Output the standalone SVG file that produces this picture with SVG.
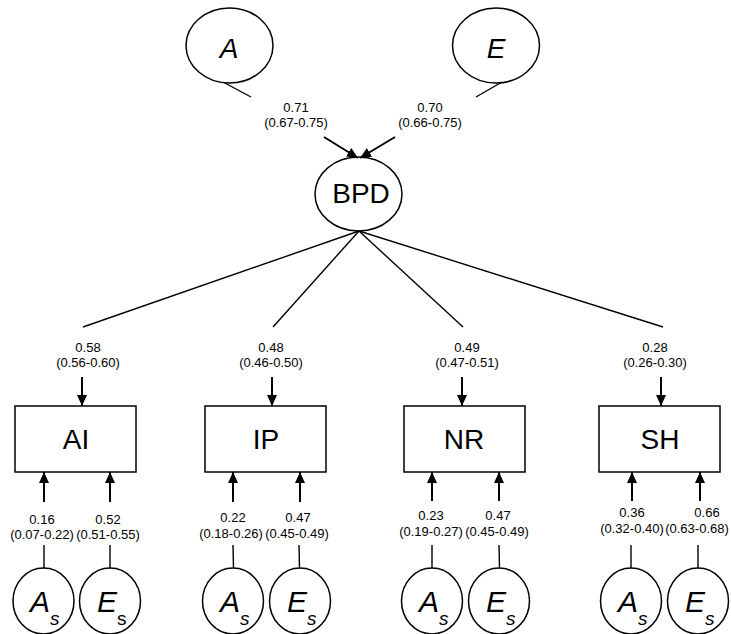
<svg xmlns="http://www.w3.org/2000/svg" width="731" height="634" viewBox="0 0 731 634">
<style>
.shape{fill:#fff;stroke:#000;stroke-width:1.5}
.ln{stroke:#000;stroke-width:1.4;fill:none}
.ar{stroke:#000;stroke-width:2;fill:none;marker-end:url(#ah)}
.lbl{font-family:"Liberation Sans",Arial,sans-serif;font-size:13px;text-anchor:middle;fill:#000}
.big{font-family:"Liberation Sans",Arial,sans-serif;font-size:28px;text-anchor:middle;fill:#000}
.lat{font-family:"Liberation Sans",Arial,sans-serif;font-style:italic;fill:#000}
.sub{font-size:19px}
</style>
<defs>
<marker id="ah" markerUnits="userSpaceOnUse" markerWidth="12" markerHeight="12" viewBox="0 0 12 12" refX="11" refY="6" orient="auto">
<path d="M0,1 L11,6 L0,11 Z" fill="#000"/>
</marker>
</defs>

<g id="node-A">
<ellipse class="shape" cx="229.5" cy="45.5" rx="43.5" ry="37.5"/>
<text class="lat" x="229" y="58" font-size="28" text-anchor="middle">A</text>
</g>
<g id="node-E">
<ellipse class="shape" cx="496" cy="45.5" rx="43.5" ry="37.5"/>
<text class="lat" x="496" y="58" font-size="28" text-anchor="middle">E</text>
</g>
<g id="node-BPD">
<ellipse class="shape" cx="358.5" cy="194" rx="43.5" ry="37"/>
<text class="big" x="361" y="203">BPD</text>
</g>

<g id="node-AI"><rect class="shape" x="15" y="406" width="121" height="66"/><text class="big" x="76" y="449">AI</text></g>
<g id="node-IP"><rect class="shape" x="205" y="406" width="121" height="66"/><text class="big" x="266" y="449">IP</text></g>
<g id="node-NR"><rect class="shape" x="404" y="406" width="121" height="66"/><text class="big" x="464" y="449">NR</text></g>
<g id="node-SH"><rect class="shape" x="599" y="406" width="121" height="66"/><text class="big" x="660" y="449">SH</text></g>

<g id="node-AI-As"><ellipse class="shape" cx="43.5" cy="601" rx="30.5" ry="33"/><text class="lat" x="30" y="612" font-size="30">A<tspan class="sub" dy="13">s</tspan></text></g>
<g id="node-AI-Es"><ellipse class="shape" cx="110" cy="601" rx="30.5" ry="33"/><text class="lat" x="97" y="612" font-size="30">E<tspan class="sub" dy="13" font-style="normal">s</tspan></text></g>
<g id="node-IP-As"><ellipse class="shape" cx="233" cy="601" rx="30.5" ry="33"/><text class="lat" x="220" y="612" font-size="30">A<tspan class="sub" dy="13">s</tspan></text></g>
<g id="node-IP-Es"><ellipse class="shape" cx="300" cy="601" rx="30.5" ry="33"/><text class="lat" x="287" y="612" font-size="30">E<tspan class="sub" dy="13">s</tspan></text></g>
<g id="node-NR-As"><ellipse class="shape" cx="432" cy="601" rx="30.5" ry="33"/><text class="lat" x="419" y="612" font-size="30">A<tspan class="sub" dy="13">s</tspan></text></g>
<g id="node-NR-Es"><ellipse class="shape" cx="499" cy="601" rx="30.5" ry="33"/><text class="lat" x="486" y="612" font-size="30">E<tspan class="sub" dy="13">s</tspan></text></g>
<g id="node-SH-As"><ellipse class="shape" cx="631" cy="601" rx="30.5" ry="33"/><text class="lat" x="618" y="612" font-size="30">A<tspan class="sub" dy="13">s</tspan></text></g>
<g id="node-SH-Es"><ellipse class="shape" cx="698" cy="601" rx="30.5" ry="33"/><text class="lat" x="685" y="612" font-size="30">E<tspan class="sub" dy="13">s</tspan></text></g>

<g id="connectors">
<line class="ln" x1="223" y1="82" x2="251" y2="97"/>
<line class="ln" x1="502" y1="82" x2="476" y2="97"/>
<line class="ar" x1="324" y1="137" x2="358" y2="158"/>
<line class="ar" x1="395" y1="137" x2="360" y2="158"/>

<line class="ln" x1="359" y1="231" x2="83" y2="327"/>
<line class="ln" x1="359" y1="231" x2="273" y2="327"/>
<line class="ln" x1="359" y1="231" x2="463" y2="327"/>
<line class="ln" x1="359" y1="231" x2="663" y2="327"/>

<line class="ar" x1="82" y1="377" x2="82" y2="406"/>
<line class="ar" x1="272" y1="377" x2="272" y2="406"/>
<line class="ar" x1="462" y1="377" x2="462" y2="406"/>
<line class="ar" x1="661" y1="377" x2="661" y2="406"/>

<line class="ar" x1="44" y1="502" x2="44" y2="472"/>
<line class="ar" x1="110" y1="502" x2="110" y2="472"/>
<line class="ar" x1="233" y1="502" x2="233" y2="472"/>
<line class="ar" x1="300" y1="502" x2="300" y2="472"/>
<line class="ar" x1="432" y1="501" x2="432" y2="472"/>
<line class="ar" x1="499" y1="501" x2="499" y2="472"/>
<line class="ar" x1="632" y1="501" x2="632" y2="472"/>
<line class="ar" x1="700" y1="501" x2="700" y2="472"/>

<line class="ln" x1="44" y1="545" x2="44" y2="568"/>
<line class="ln" x1="110" y1="545" x2="110" y2="568"/>
<line class="ln" x1="233" y1="545" x2="233.5" y2="568"/>
<line class="ln" x1="299" y1="545" x2="299.5" y2="568"/>
<line class="ln" x1="432" y1="545" x2="432" y2="568"/>
<line class="ln" x1="499" y1="545" x2="499.5" y2="568"/>
<line class="ln" x1="631" y1="545" x2="631" y2="568"/>
<line class="ln" x1="698" y1="545" x2="698" y2="568"/>
</g>

<g id="labels">
<text class="lbl" x="296" y="112">0.71</text><text class="lbl" x="296" y="127">(0.67-0.75)</text>
<text class="lbl" x="430" y="112">0.70</text><text class="lbl" x="430" y="127">(0.66-0.75)</text>

<text class="lbl" x="88" y="352">0.58</text><text class="lbl" x="88" y="367">(0.56-0.60)</text>
<text class="lbl" x="271" y="352">0.48</text><text class="lbl" x="271" y="367">(0.46-0.50)</text>
<text class="lbl" x="467" y="352">0.49</text><text class="lbl" x="467" y="367">(0.47-0.51)</text>
<text class="lbl" x="655" y="352">0.28</text><text class="lbl" x="655" y="367">(0.26-0.30)</text>

<text class="lbl" x="42" y="524">0.16</text><text class="lbl" x="42" y="539">(0.07-0.22)</text>
<text class="lbl" x="108" y="524">0.52</text><text class="lbl" x="108" y="539">(0.51-0.55)</text>
<text class="lbl" x="233" y="522">0.22</text><text class="lbl" x="231" y="538">(0.18-0.26)</text>
<text class="lbl" x="298" y="522">0.47</text><text class="lbl" x="297" y="538">(0.45-0.49)</text>
<text class="lbl" x="431" y="520">0.23</text><text class="lbl" x="431" y="536">(0.19-0.27)</text>
<text class="lbl" x="498" y="520">0.47</text><text class="lbl" x="497" y="536">(0.45-0.49)</text>
<text class="lbl" x="632" y="517">0.36</text><text class="lbl" x="632" y="533">(0.32-0.40)</text>
<text class="lbl" x="707" y="517">0.66</text><text class="lbl" x="697" y="533">(0.63-0.68)</text>
</g>
</svg>
